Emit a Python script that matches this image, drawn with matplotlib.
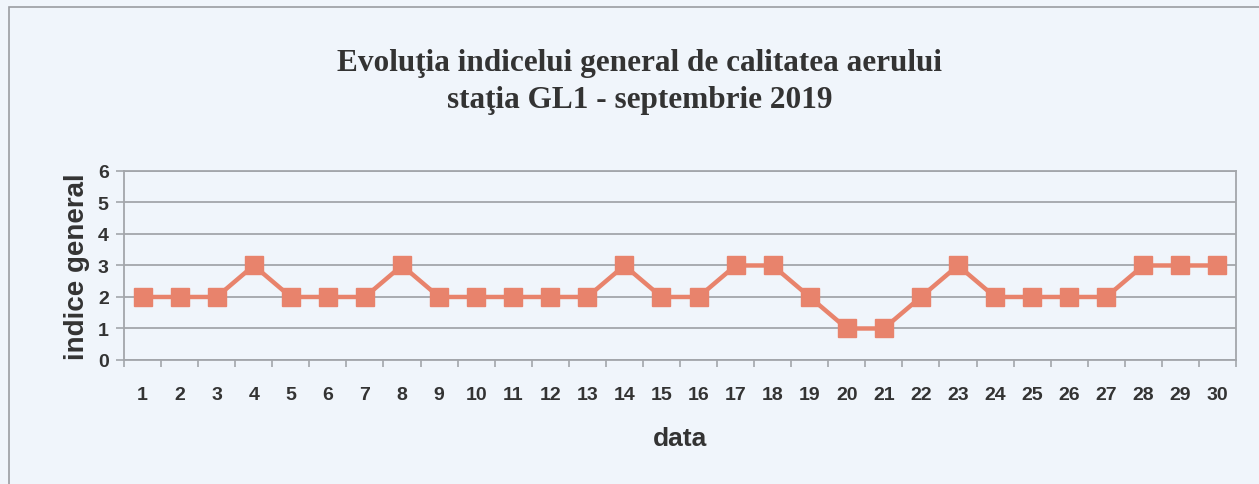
import matplotlib.pyplot as plt
from matplotlib.patches import Rectangle
from matplotlib.ticker import FixedLocator

DAYS = list(range(1, 31))
INDEX = [2, 2, 2, 3, 2, 2, 2, 3, 2, 2, 2, 2, 2, 3, 2, 2, 3, 3, 2, 1,
         1, 2, 3, 2, 2, 2, 2, 3, 3, 3]
Y_TICKS = [0, 1, 2, 3, 4, 5, 6]

BG = "#f0f5fb"
LINE = "#e8836c"
GRID = "#a3a6ab"
TEXT = "#333333"


def main():
    fig = plt.figure(figsize=(12.59, 4.85), dpi=100)
    fig.patch.set_facecolor(BG)
    ax = fig.add_axes([0.0985, 0.2557, 0.8832, 0.3897])
    ax.set_facecolor(BG)

    ax.plot(DAYS, INDEX, color=LINE, linewidth=3.2, marker="s",
            markersize=13.5, markerfacecolor=LINE, markeredgecolor=LINE, zorder=3)

    ax.set_xlim(0.5, 30.5)
    ax.set_ylim(0, 6)
    ax.set_yticks(Y_TICKS)
    ax.set_xticks(DAYS)
    ax.xaxis.set_minor_locator(FixedLocator([d + 0.5 for d in range(0, 31)]))
    ax.tick_params(axis="x", which="major", length=0, pad=19)
    ax.tick_params(axis="x", which="minor", length=5, width=1.2, color=GRID)
    ax.tick_params(axis="y", length=6, width=1.2, color=GRID, pad=5)

    for lab in ax.get_xticklabels() + ax.get_yticklabels():
        lab.set_fontfamily("Liberation Sans")
        lab.set_fontweight("bold")
        lab.set_fontsize(14)
        lab.set_color(TEXT)

    ax.grid(axis="y", color=GRID, linewidth=1.3)
    ax.set_axisbelow(True)
    for side in ["left", "bottom", "right", "top"]:
        ax.spines[side].set_color(GRID)
        ax.spines[side].set_linewidth(1.3)

    ax.set_xlabel("data", fontfamily="Liberation Sans", fontweight="bold",
                  fontsize=19, color=TEXT, labelpad=16)
    ax.set_ylabel("indice general", fontfamily="Liberation Sans", fontweight="bold",
                  fontsize=20, color=TEXT, labelpad=6)

    fig.text(0.508, 0.87, "Evoluţia indicelui general de calitatea aerului",
             ha="center", va="center", fontfamily="Liberation Serif",
             fontweight="bold", fontsize=22.5, color=TEXT)
    fig.text(0.508, 0.792, "staţia GL1 - septembrie 2019",
             ha="center", va="center", fontfamily="Liberation Serif",
             fontweight="bold", fontsize=22.5, color=TEXT)

    fig.patches.append(Rectangle((0.0075, -0.05), 1.1, 1.033, transform=fig.transFigure,
                                 fill=False, edgecolor="#9a9da2", linewidth=1.2))

    fig.savefig("out.png", facecolor=fig.get_facecolor())


if __name__ == "__main__":
    main()
